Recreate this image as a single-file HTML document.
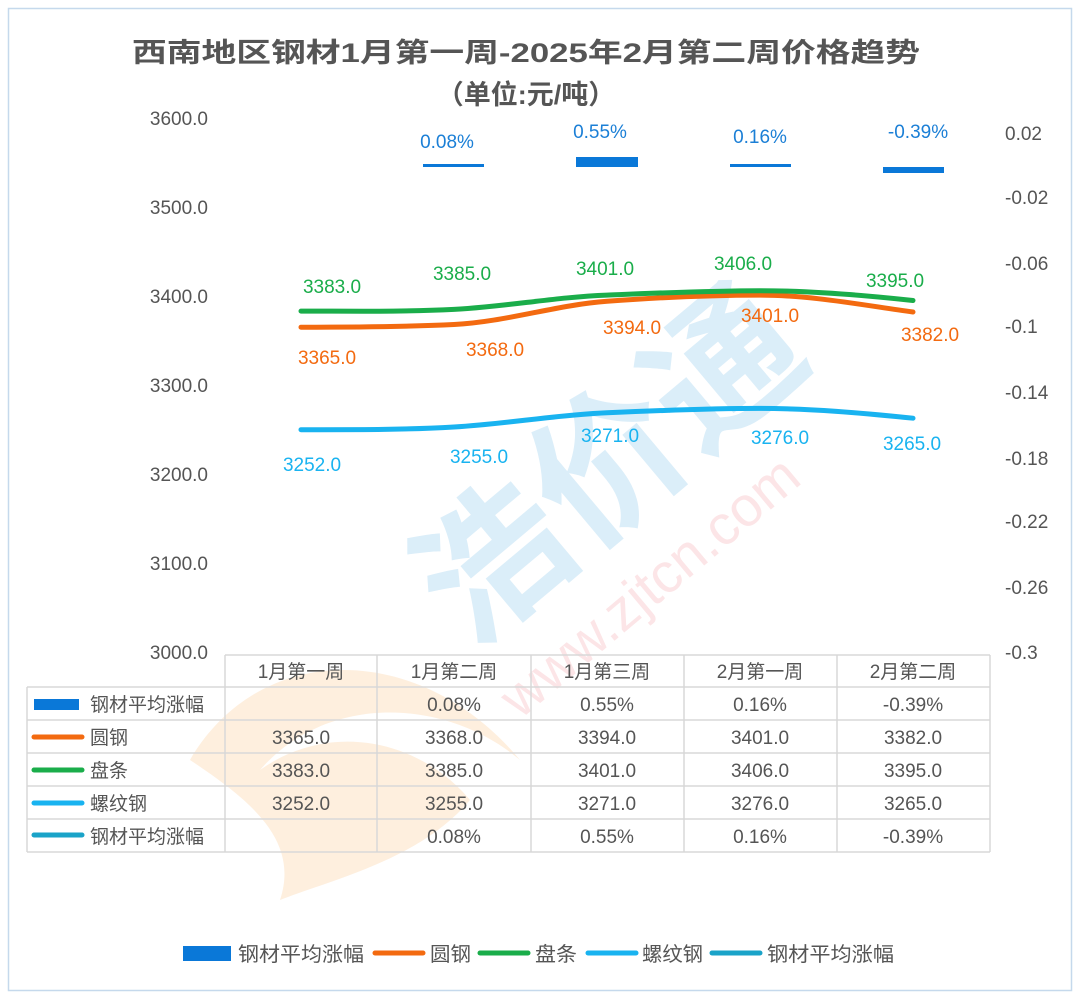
<!DOCTYPE html>
<html><head><meta charset="utf-8"><style>
html,body{margin:0;padding:0;background:#fff;}
svg{display:block;font-family:"Liberation Sans","Noto Sans CJK SC",sans-serif;}
</style></head><body>
<svg width="1080" height="1001" viewBox="0 0 1080 1001" xmlns="http://www.w3.org/2000/svg">
<rect x="0" y="0" width="1080" height="1001" fill="#fff"/>
<rect x="8.5" y="8.5" width="1063" height="982" fill="none" stroke="#c5d9ec" stroke-width="1.5"/>

<!-- watermark -->
<g opacity="0.28">
<path d="M190,760 C260,640 420,640 520,760 C450,700 330,690 260,770 C330,720 420,740 470,800 C420,860 330,880 280,900 C300,840 250,800 190,760Z" fill="#f9c48a"/>
<text x="0" y="0" transform="translate(470,650) rotate(-40)" font-size="150" font-weight="bold" fill="#7fc0e8">浩价通</text>
<text x="0" y="0" transform="translate(520,720) rotate(-40)" font-size="56" fill="#f3a3a8">www.zjtcn.com</text>
</g>

<!-- title -->
<text x="526" y="62" text-anchor="middle" font-size="27" font-weight="bold" fill="#555" textLength="788" lengthAdjust="spacingAndGlyphs">西南地区钢材1月第一周-2025年2月第二周价格趋势</text>
<text x="526" y="104" text-anchor="middle" font-size="27" font-weight="bold" fill="#555">（单位:元/吨）</text>

<!-- left axis -->
<g font-size="19" fill="#555" text-anchor="end">
<text x="208" y="125">3600.0</text>
<text x="208" y="214">3500.0</text>
<text x="208" y="303">3400.0</text>
<text x="208" y="392">3300.0</text>
<text x="208" y="481">3200.0</text>
<text x="208" y="570">3100.0</text>
<text x="208" y="659">3000.0</text>
</g>
<!-- right axis -->
<g font-size="19" fill="#555" text-anchor="start">
<text x="1005" y="140">0.02</text>
<text x="1005" y="204">-0.02</text>
<text x="1005" y="270">-0.06</text>
<text x="1005" y="333">-0.1</text>
<text x="1005" y="399">-0.14</text>
<text x="1005" y="465">-0.18</text>
<text x="1005" y="528">-0.22</text>
<text x="1005" y="594">-0.26</text>
<text x="1005" y="659">-0.3</text>
</g>

<!-- bars -->
<g fill="#0a78d8">
<rect x="423" y="164" width="61" height="3"/>
<rect x="576" y="157" width="62" height="10"/>
<rect x="730" y="164" width="61" height="3"/>
<rect x="883" y="167" width="61" height="6"/>
</g>
<g font-size="19" fill="#1b7fd6" text-anchor="middle">
<text x="447" y="148">0.08%</text>
<text x="600" y="138">0.55%</text>
<text x="760" y="143">0.16%</text>
<text x="918" y="138">-0.39%</text>
</g>

<!-- lines -->
<g fill="none" stroke-width="5" stroke-linecap="round">
<path stroke="#f36a10" d="M301,327.2 C352,327.2 403,327 454,324.5 C505,322 556,305 607,301.3 C658,297.5 709,295.1 760,295.1 C811,295.1 862,305 913,312"/>
<path stroke="#1aad4a" d="M301,311.1 C352,311.1 403,312 454,309.4 C505,306.8 556,297 607,295.1 C658,293 709,290.7 760,290.7 C811,290.7 862,295 913,300.5"/>
<path stroke="#19b3f0" d="M301,429.7 C352,429.7 403,430 454,427 C505,424 556,415 607,412.8 C658,410.5 709,408.4 760,408.4 C811,408.4 862,413 913,418.2"/>
</g>
<g font-size="19" text-anchor="middle">
<g fill="#1aad4a">
<text x="332" y="293">3383.0</text><text x="462" y="280">3385.0</text><text x="605" y="275">3401.0</text><text x="743" y="270">3406.0</text><text x="895" y="287">3395.0</text>
</g>
<g fill="#f36a10">
<text x="327" y="364">3365.0</text><text x="495" y="356">3368.0</text><text x="632" y="334">3394.0</text><text x="770" y="322">3401.0</text><text x="930" y="341">3382.0</text>
</g>
<g fill="#19b3f0">
<text x="312" y="471">3252.0</text><text x="479" y="463">3255.0</text><text x="610" y="442">3271.0</text><text x="780" y="444">3276.0</text><text x="912" y="450">3265.0</text>
</g>
</g>

<!-- table -->
<g stroke="#d8d8d8" stroke-width="1.5" fill="none">
<line x1="225" y1="655" x2="990" y2="655"/>
<line x1="27" y1="687" x2="990" y2="687"/>
<line x1="27" y1="720" x2="990" y2="720"/>
<line x1="27" y1="753" x2="990" y2="753"/>
<line x1="27" y1="786" x2="990" y2="786"/>
<line x1="27" y1="819" x2="990" y2="819"/>
<line x1="27" y1="852" x2="990" y2="852"/>
<line x1="27" y1="687" x2="27" y2="852"/>
<line x1="225" y1="655" x2="225" y2="852"/>
<line x1="377" y1="655" x2="377" y2="852"/>
<line x1="531" y1="655" x2="531" y2="852"/>
<line x1="684" y1="655" x2="684" y2="852"/>
<line x1="837" y1="655" x2="837" y2="852"/>
<line x1="990" y1="655" x2="990" y2="852"/>
</g>
<g font-size="19" fill="#555" text-anchor="middle">
<text x="301" y="678">1月第一周</text><text x="454" y="678">1月第二周</text><text x="607" y="678">1月第三周</text><text x="760" y="678">2月第一周</text><text x="913" y="678">2月第二周</text>
<text x="454" y="711">0.08%</text><text x="607" y="711">0.55%</text><text x="760" y="711">0.16%</text><text x="913" y="711">-0.39%</text>
<text x="301" y="744">3365.0</text><text x="454" y="744">3368.0</text><text x="607" y="744">3394.0</text><text x="760" y="744">3401.0</text><text x="913" y="744">3382.0</text>
<text x="301" y="777">3383.0</text><text x="454" y="777">3385.0</text><text x="607" y="777">3401.0</text><text x="760" y="777">3406.0</text><text x="913" y="777">3395.0</text>
<text x="301" y="810">3252.0</text><text x="454" y="810">3255.0</text><text x="607" y="810">3271.0</text><text x="760" y="810">3276.0</text><text x="913" y="810">3265.0</text>
<text x="454" y="843">0.08%</text><text x="607" y="843">0.55%</text><text x="760" y="843">0.16%</text><text x="913" y="843">-0.39%</text>
</g>
<rect x="34" y="699" width="45" height="11" fill="#0a78d8"/>
<g stroke-width="5" stroke-linecap="round">
<line x1="34" y1="737" x2="82" y2="737" stroke="#f36a10"/>
<line x1="34" y1="770" x2="82" y2="770" stroke="#1aad4a"/>
<line x1="34" y1="803" x2="82" y2="803" stroke="#19b3f0"/>
<line x1="34" y1="835" x2="82" y2="835" stroke="#1aa3c8"/>
</g>
<g font-size="19" fill="#555">
<text x="90" y="711">钢材平均涨幅</text>
<text x="90" y="744">圆钢</text>
<text x="90" y="777">盘条</text>
<text x="90" y="810">螺纹钢</text>
<text x="90" y="843">钢材平均涨幅</text>
</g>

<!-- legend -->
<rect x="183" y="946" width="48" height="15" fill="#0a78d8"/>
<g stroke-width="5" stroke-linecap="round">
<line x1="375" y1="953" x2="423" y2="953" stroke="#f36a10"/>
<line x1="480" y1="953" x2="528" y2="953" stroke="#1aad4a"/>
<line x1="588" y1="953" x2="636" y2="953" stroke="#19b3f0"/>
<line x1="712" y1="953" x2="760" y2="953" stroke="#1aa3c8"/>
</g>
<g font-size="20" fill="#555">
<text x="238" y="961" textLength="126" lengthAdjust="spacingAndGlyphs">钢材平均涨幅</text>
<text x="430" y="961" textLength="41" lengthAdjust="spacingAndGlyphs">圆钢</text>
<text x="535" y="961" textLength="42" lengthAdjust="spacingAndGlyphs">盘条</text>
<text x="642" y="961" textLength="61" lengthAdjust="spacingAndGlyphs">螺纹钢</text>
<text x="767" y="961" textLength="127" lengthAdjust="spacingAndGlyphs">钢材平均涨幅</text>
</g>
</svg>
</body></html>
